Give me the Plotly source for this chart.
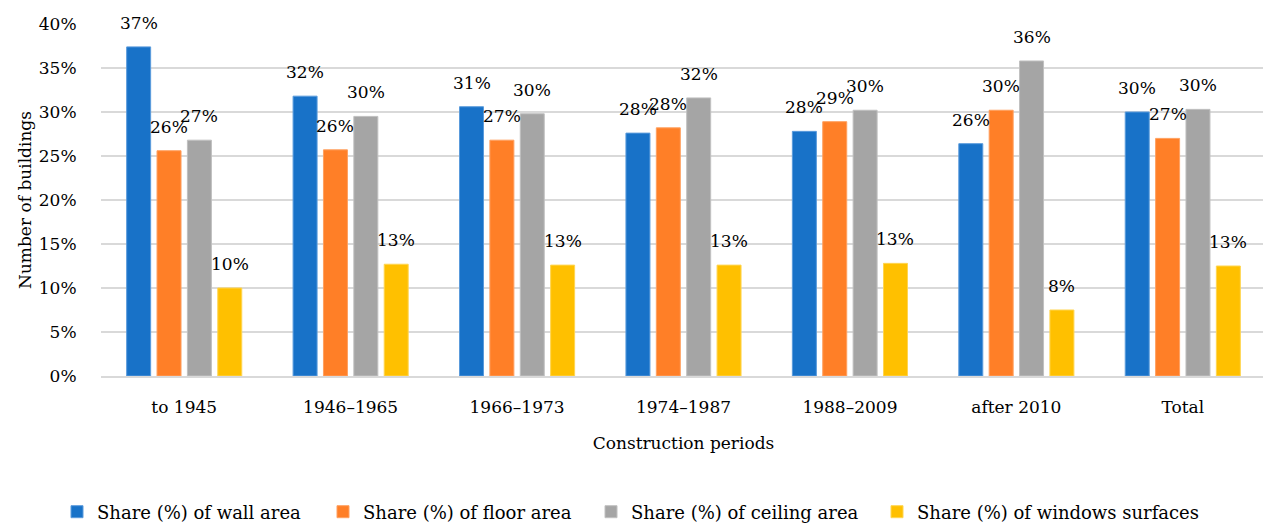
import plotly.graph_objects as go

categories = ["to 1945", "1946–1965", "1966–1973", "1974–1987", "1988–2009", "after 2010", "Total"]
wall = [37.4, 31.8, 30.6, 27.6, 27.8, 26.4, 30.0]
floor = [25.6, 25.7, 26.8, 28.2, 28.9, 30.2, 27.0]
ceiling = [26.8, 29.5, 29.8, 31.6, 30.2, 35.8, 30.3]
windows = [10.0, 12.7, 12.6, 12.6, 12.8, 7.5, 12.5]
series_names = ["Share (%) of wall area", "Share (%) of floor area",
                "Share (%) of ceiling area", "Share (%) of windows surfaces"]
y_ticks = [0, 5, 10, 15, 20, 25, 30, 35, 40]
y_tick_labels = ["0%", "5%", "10%", "15%", "20%", "25%", "30%", "35%", "40%"]

series = [wall, floor, ceiling, windows]
colors = ["#1872C8", "#FF7F27", "#A5A5A5", "#FFC000"]
edge = ["#5A9BDC", "#FFA060", "#C0C0C0", "#FFD550"]

FONT = "DejaVu Serif"
# page has an 8px body margin
W, H = 1263, 516
ML, MR, MT, MB = 93, 5, 16, 148
BARGAP = 0.27
GROUPGAP = 0.21
plot_w = W - ML - MR
plot_h = H - MT - MB

# legend entry left edges (figure pixels)
legend_left_px = [49, 315, 583, 869]
legend_ids = ["legend", "legend2", "legend3", "legend4"]

fig = go.Figure()
for name, vals, c, e, lid in zip(series_names, series, colors, edge, legend_ids):
    fig.add_trace(go.Bar(
        x=categories, y=vals, name=name, legend=lid,
        marker=dict(color=c, line=dict(color=e, width=1)),
    ))

# data labels placed above each bar
cat_w = plot_w / len(categories)
slot = cat_w * (1 - BARGAP) / len(series)
annotations = []
for si, vals in enumerate(series):
    off = (si - (len(series) - 1) / 2) * slot
    for cat, v in zip(categories, vals):
        annotations.append(dict(
            x=cat, y=v, xref="x", yref="y", text=f"{int(v + 0.5)}%",
            showarrow=False, xshift=off, yshift=24, yanchor="middle",
            font=dict(family=FONT, size=17, color="#000000"),
        ))

legend_y = -(504 - (H - MB)) / plot_h
legends = {}
for lid, lx in zip(legend_ids, legend_left_px):
    legends[lid] = dict(
        orientation="h", x=(lx - ML) / plot_w, xanchor="left",
        y=legend_y, yanchor="middle", itemwidth=30,
        font=dict(family=FONT, size=18, color="#000000"),
        bgcolor="rgba(0,0,0,0)",
    )

fig.update_layout(
    width=W, height=H,
    margin=dict(l=ML, r=MR, t=MT, b=MB, autoexpand=False),
    barmode="group", bargap=BARGAP, bargroupgap=GROUPGAP,
    plot_bgcolor="white", paper_bgcolor="white",
    font=dict(family=FONT, size=17, color="#000000"),
    showlegend=True,
    annotations=annotations,
    **legends,
)
fig.update_xaxes(
    showgrid=False, showline=True, linecolor="#D9D9D9", linewidth=2,
    ticks="outside", tickcolor="rgba(0,0,0,0)", ticklen=15,
    tickfont=dict(family=FONT, size=17),
    title=dict(text="Construction periods", standoff=21, font=dict(family=FONT, size=17)),
)
fig.update_yaxes(
    range=[0, 40], tickmode="array", tickvals=y_ticks, ticktext=y_tick_labels,
    showgrid=True, gridcolor="#D9D9D9", gridwidth=2, zeroline=False,
    ticks="outside", tickcolor="rgba(0,0,0,0)", ticklen=20,
    tickfont=dict(family=FONT, size=17),
    title=dict(text="Number of buildings", standoff=2, font=dict(family=FONT, size=17)),
)

fig.write_html("out.html")
